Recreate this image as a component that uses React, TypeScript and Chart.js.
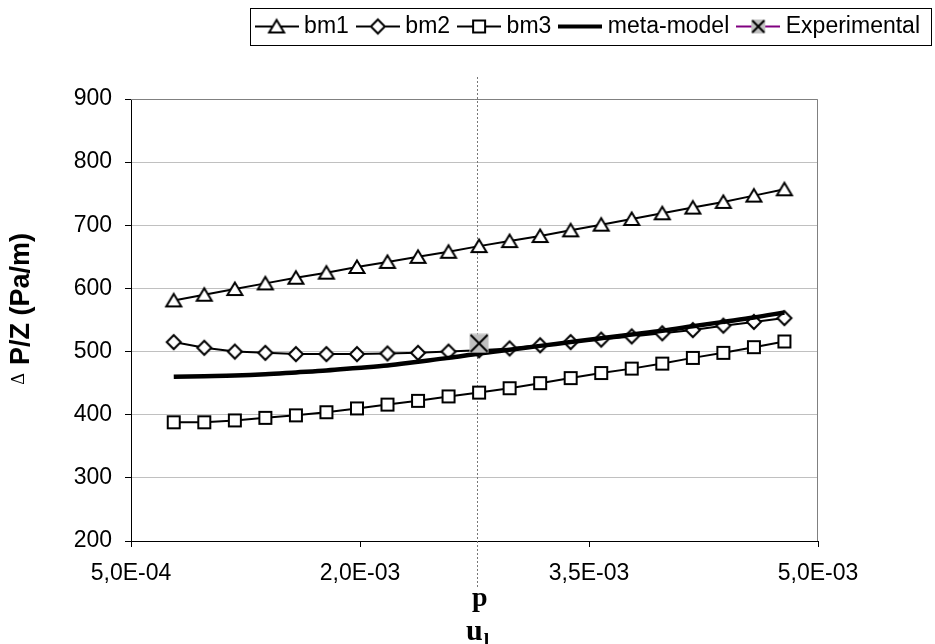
import React, { useEffect, useRef } from 'react';
import { Chart, registerables } from 'chart.js';

Chart.register(...registerables);

// ---------- data ----------
const xValues = [
  0.00078, 0.00098, 0.00118, 0.00138, 0.00158, 0.00178, 0.00198, 0.00218, 0.00238, 0.00258,
  0.00278, 0.00298, 0.00318, 0.00338, 0.00358, 0.00378, 0.00398, 0.00418, 0.00438, 0.00458, 0.00478,
];
const bm1 = [581, 590, 599, 608, 617, 625, 634, 642, 650, 658, 667, 675, 683, 692, 701, 710, 719, 728, 737, 747, 757];
const bm2 = [515, 506, 500, 498, 496, 496, 496, 497, 498, 500, 502, 505, 510, 515, 519, 524, 529, 534, 541, 547, 553];
const bm3 = [388, 388, 391, 395, 399, 404, 410, 416, 422, 429, 435, 442, 450, 458, 466, 473, 481, 490, 498, 507, 516];
const metaModel = [460, 461, 462, 464, 467, 470, 474, 478, 484, 490, 497, 503, 509, 515, 521, 527, 533, 540, 547, 554, 562];
const experimentalX = [0.00278];
const experimentalY = [513];
const operatingPointX = 0.002765;

const seriesLabels = ['bm1', 'bm2', 'bm3', 'meta-model', 'Experimental'];
const xTickValues = [0.0005, 0.002, 0.0035, 0.005];
const xTickLabels = ['5,0E-04', '2,0E-03', '3,5E-03', '5,0E-03'];
const yMin = 200;
const yMax = 900;
const yStep = 100;
const yTitle = 'P/Z (Pa/m)';
const yTitlePrefix = 'Δ';
const xTitleTop = 'p';
const xTitleMain = 'u';
const xTitleSub = 'l';

const SANS = '"Liberation Sans", Arial, sans-serif';
const SERIF = '"Liberation Serif", "Times New Roman", serif';
const FONT_SIZE = 23;

type Draw = (g: CanvasRenderingContext2D, cx: number, cy: number) => void;

const drawTri: Draw = (g, cx, cy) => {
  g.beginPath();
  g.moveTo(cx, cy - 6.5);
  g.lineTo(cx + 7.5, cy + 6);
  g.lineTo(cx - 7.5, cy + 6);
  g.closePath();
  g.fillStyle = '#fff';
  g.fill();
  g.lineWidth = 2;
  g.strokeStyle = '#000';
  g.stroke();
};
const drawDiamond: Draw = (g, cx, cy) => {
  g.beginPath();
  g.moveTo(cx, cy - 7);
  g.lineTo(cx + 7, cy);
  g.lineTo(cx, cy + 7);
  g.lineTo(cx - 7, cy);
  g.closePath();
  g.fillStyle = '#fff';
  g.fill();
  g.lineWidth = 2;
  g.strokeStyle = '#000';
  g.stroke();
};
const drawSquare: Draw = (g, cx, cy) => {
  g.beginPath();
  g.rect(cx - 6, cy - 6, 12, 12);
  g.fillStyle = '#fff';
  g.fill();
  g.lineWidth = 2;
  g.strokeStyle = '#000';
  g.stroke();
};
const makeExp = (half: number): Draw => (g, cx, cy) => {
  g.fillStyle = '#C0C0C0';
  g.fillRect(cx - half, cy - half, half * 2, half * 2);
  g.strokeStyle = '#000';
  g.lineWidth = 2;
  g.beginPath();
  g.moveTo(cx - half + 1, cy - half + 1);
  g.lineTo(cx + half - 1, cy + half - 1);
  g.moveTo(cx + half - 1, cy - half + 1);
  g.lineTo(cx - half + 1, cy + half - 1);
  g.stroke();
};

function makeCanvas(w: number, h: number, fn: (g: CanvasRenderingContext2D) => void) {
  const c = document.createElement('canvas');
  c.width = w;
  c.height = h;
  const g = c.getContext('2d') as CanvasRenderingContext2D;
  fn(g);
  return c;
}

function markerCanvas(draw: Draw, size = 20) {
  return makeCanvas(size, size, (g) => draw(g, size / 2, size / 2));
}

function legendIcon(color: string, width: number, draw: Draw | null) {
  const W = 44;
  const H = 22;
  return makeCanvas(W, H, (g) => {
    g.strokeStyle = color;
    g.lineWidth = width;
    g.beginPath();
    g.moveTo(0, H / 2);
    g.lineTo(W, H / 2);
    g.stroke();
    if (draw) draw(g, W / 2, H / 2);
  });
}

const decorPlugin = {
  id: 'decor',
  beforeDatasetsDraw(chart: any) {
    const { ctx, chartArea: a, scales } = chart;
    ctx.save();
    // plot-area frame (top and right)
    ctx.strokeStyle = '#808080';
    ctx.lineWidth = 1;
    ctx.beginPath();
    ctx.moveTo(a.left, a.top + 0.5);
    ctx.lineTo(a.right - 0.5, a.top + 0.5);
    ctx.lineTo(a.right - 0.5, a.bottom);
    ctx.stroke();
    // dotted operating-point line
    const x = Math.round(scales.x.getPixelForValue(operatingPointX)) + 0.5;
    ctx.setLineDash([2, 2]);
    ctx.strokeStyle = '#777';
    ctx.beginPath();
    ctx.moveTo(x, a.top - 22);
    ctx.lineTo(x, a.bottom + 46);
    ctx.stroke();
    ctx.restore();
  },
  afterDraw(chart: any) {
    const { ctx, chartArea: a, scales } = chart;
    ctx.save();
    // legend frame
    const lg = chart.legend;
    if (lg && lg.legendHitBoxes && lg.legendHitBoxes.length) {
      const left = lg.legendHitBoxes[0].left - 11;
      const right = lg.right - 2;
      ctx.strokeStyle = '#000';
      ctx.lineWidth = 1;
      ctx.strokeRect(Math.round(left) + 0.5, 8.5, Math.round(right - left), 37);
    }
    ctx.fillStyle = '#000';
    // y title
    const cy = (a.top + a.bottom) / 2 - 21;
    ctx.translate(22, cy);
    ctx.rotate(-Math.PI / 2);
    ctx.textAlign = 'center';
    ctx.textBaseline = 'middle';
    ctx.font = `bold 27px ${SANS}`;
    ctx.fillText(yTitle, 0, 0);
    ctx.font = `18px ${SERIF}`;
    ctx.fillText(yTitlePrefix, -80, -3);
    ctx.setTransform(1, 0, 0, 1, 0, 0);
    // x title
    const px = scales.x.getPixelForValue(operatingPointX) + 3;
    ctx.textBaseline = 'alphabetic';
    ctx.textAlign = 'center';
    ctx.font = `bold 28px ${SERIF}`;
    ctx.fillText(xTitleTop, px, a.bottom + 65);
    ctx.textAlign = 'right';
    ctx.font = `bold 30px ${SERIF}`;
    ctx.fillText(xTitleMain, px + 3, a.bottom + 99);
    ctx.textAlign = 'left';
    ctx.font = `bold 20px ${SERIF}`;
    ctx.fillText(xTitleSub, px + 4, a.bottom + 107);
    ctx.restore();
  },
};

export default function App() {
  const ref = useRef<HTMLCanvasElement | null>(null);

  useEffect(() => {
    document.body.style.margin = '0';
    const canvas = ref.current;
    if (!canvas) return;

    const triM = markerCanvas(drawTri);
    const diaM = markerCanvas(drawDiamond);
    const sqM = markerCanvas(drawSquare);
    const expM = markerCanvas(makeExp(9.5));

    const icons = [
      legendIcon('#000', 2, drawTri),
      legendIcon('#000', 2, drawDiamond),
      legendIcon('#000', 2, drawSquare),
      legendIcon('#000', 4, null),
      legendIcon('#800080', 2, makeExp(7)),
    ];

    const pts = (ys: number[]) => xValues.map((x, i) => ({ x, y: ys[i] }));

    const chart = new Chart(canvas, {
      type: 'line',
      data: {
        datasets: [
          { label: seriesLabels[0], data: pts(bm1), borderColor: '#000', borderWidth: 2, pointStyle: triM as any, pointRadius: 7, order: 5, yAxisID: 'y' },
          { label: seriesLabels[1], data: pts(bm2), borderColor: '#000', borderWidth: 2, pointStyle: diaM as any, pointRadius: 7, order: 4, yAxisID: 'y' },
          { label: seriesLabels[2], data: pts(bm3), borderColor: '#000', borderWidth: 2, pointStyle: sqM as any, pointRadius: 7, order: 3, yAxisID: 'y' },
          { label: seriesLabels[3], data: pts(metaModel), borderColor: '#000', borderWidth: 4.5, pointRadius: 0, cubicInterpolationMode: 'monotone', order: 2, yAxisID: 'y' },
          { label: seriesLabels[4], data: experimentalX.map((x, i) => ({ x, y: experimentalY[i] })), borderColor: '#800080', showLine: false, pointStyle: expM as any, pointRadius: 9, order: 1, yAxisID: 'y' },
        ] as any,
      },
      options: {
        responsive: false,
        animation: false,
        events: [],
        devicePixelRatio: 1,
        layout: { padding: { top: 2, left: 0, right: 2, bottom: 0 } },
        plugins: {
          tooltip: { enabled: false },
          title: {
            display: true,
            text: '',
            weight: 500,
            position: 'top',
            font: { size: 1, lineHeight: 1 },
            padding: { top: 0, bottom: 50 },
          } as any,
          legend: {
            display: true,
            position: 'top',
            align: 'end',
            labels: {
              usePointStyle: true,
              pointStyleWidth: 32,
              padding: 13,
              color: '#000',
              font: { family: SANS, size: FONT_SIZE },
              generateLabels: () =>
                seriesLabels.map((text, i) => ({
                  text,
                  pointStyle: icons[i] as any,
                  fillStyle: 'rgba(0,0,0,0)',
                  strokeStyle: 'rgba(0,0,0,0)',
                  lineWidth: 0,
                  hidden: false,
                  datasetIndex: i,
                  fontColor: '#000',
                })),
            },
          },
        },
        scales: {
          x: {
            type: 'linear',
            position: 'bottom',
            min: xTickValues[0],
            max: xTickValues[xTickValues.length - 1],
            afterBuildTicks: (s: any) => {
              s.ticks = xTickValues.map((value) => ({ value }));
            },
            afterFit: (s: any) => {
              s.height = 103;
            },
            grid: { drawOnChartArea: false, drawTicks: true, tickLength: 6, tickColor: '#000' },
            border: { color: '#000', width: 1 },
            ticks: {
              autoSkip: false,
              maxRotation: 0,
              padding: 13,
              color: '#000',
              font: { family: SANS, size: FONT_SIZE },
              callback: (_v: any, i: number) => xTickLabels[i],
            },
          },
          y: {
            type: 'linear',
            position: 'left',
            min: yMin,
            max: yMax,
            afterFit: (s: any) => {
              s.width = 131;
            },
            grid: { color: '#C0C0C0', lineWidth: 1, drawTicks: true, tickLength: 6, tickColor: '#000' },
            border: { color: '#000', width: 1 },
            ticks: {
              stepSize: yStep,
              padding: 13,
              color: '#000',
              font: { family: SANS, size: FONT_SIZE },
            },
          },
          yr: {
            type: 'linear',
            position: 'right',
            display: true,
            afterFit: (s: any) => {
              s.width = 115;
            },
            grid: { display: false, drawOnChartArea: false, drawTicks: false },
            border: { display: false },
            ticks: { display: false },
          },
        } as any,
      },
      plugins: [decorPlugin],
    } as any);

    return () => chart.destroy();
  }, []);

  return (
    <div style={{ width: 935, height: 644, background: '#fff' }}>
      <canvas ref={ref} width={935} height={644} style={{ display: 'block' }} />
    </div>
  );
}
